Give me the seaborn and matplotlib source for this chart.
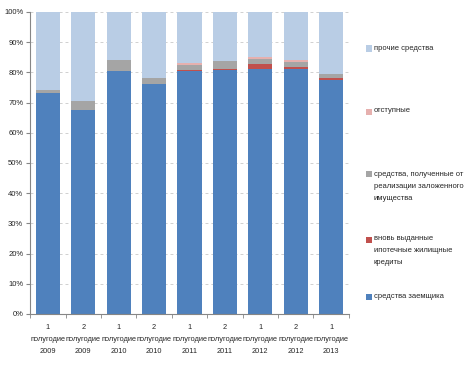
import numpy as np
import pandas as pd
import matplotlib
matplotlib.use("Agg")
import matplotlib.pyplot as plt
from matplotlib.patches import Rectangle
from matplotlib.ticker import PercentFormatter
import seaborn as sns

periods = ["1\nполугодие\n2009", "2\nполугодие\n2009", "1\nполугодие\n2010",
           "2\nполугодие\n2010", "1\nполугодие\n2011", "2\nполугодие\n2011",
           "1\nполугодие\n2012", "2\nполугодие\n2012", "1\nполугодие\n2013"]

# shares, %
borrower = [73.1, 67.5, 80.6, 76.0, 80.4, 80.8, 81.2, 81.1, 77.6]
new_loans = [0.0, 0.0, 0.0, 0.3, 0.3, 0.3, 1.5, 0.7, 0.4]
collateral = [1.1, 3.1, 3.5, 1.8, 1.6, 2.6, 1.8, 1.5, 1.3]
indemnity = [0.0, 0.0, 0.0, 0.0, 0.8, 0.1, 0.7, 0.8, 0.1]

names = ["средства заемщика",
         "вновь выданные\nипотечные жилищные\nкредиты",
         "средства, полученные от\nреализации заложенного\nимущества",
         "отступные",
         "прочие средства"]
colors = ["#4F81BD", "#C0504D", "#A5A5A5", "#E6B0AE", "#B9CDE5"]

layers = [borrower, new_loans, collateral, indemnity]
other = [100 - sum(v) for v in zip(*layers)]
layers.append(other)

df = pd.DataFrame({"period": periods})
cum = np.cumsum(np.array(layers), axis=0)

sns.set_style("white")
plt.rcParams["font.family"] = ["Liberation Sans", "DejaVu Sans"]

fig = plt.figure(figsize=(4.72, 3.75), dpi=100)
ax = fig.add_axes([0.064, 0.163, 0.675, 0.805])

for i in range(len(layers) - 1, -1, -1):
    df["v"] = cum[i]
    sns.barplot(data=df, x="period", y="v", color=colors[i], width=0.68,
                saturation=1, linewidth=0, ax=ax, zorder=2)

ax.set_ylim(0, 100)
ax.set_xlim(-0.5, len(periods) - 0.5)
ax.set_yticks(np.arange(0, 101, 10))
ax.yaxis.set_major_formatter(PercentFormatter(decimals=0))
ax.set_xlabel("")
ax.set_ylabel("")
ax.grid(axis="y", color="#D0D0D0", linestyle=(0, (3, 3)), linewidth=0.7, zorder=0)
ax.set_axisbelow(True)
for s in ["top", "right"]:
    ax.spines[s].set_visible(False)
for s in ["left", "bottom"]:
    ax.spines[s].set_color("#868686")
    ax.spines[s].set_linewidth(0.8)

ax.tick_params(axis="y", labelsize=5.5, length=3, color="#868686", pad=2, left=True)
ax.set_xticks(np.arange(len(periods)))
ax.set_xticklabels(periods, fontsize=5.3, linespacing=2.0)
ax.tick_params(axis="x", length=0, pad=7)
ax.set_xticks(np.arange(-0.5, len(periods)), minor=True)
ax.tick_params(axis="x", which="minor", length=3, color="#868686", bottom=True)

# legend on the right, placed like in the original
label_y = [296, 251, 186, 111, 48]
for i in range(len(names)):
    yf = 1 - label_y[i] / 375
    nlines = names[i].count("\n") + 1
    top_y = yf + (nlines - 1) * 6 / 375
    fig.patches.append(Rectangle((366 / 472, top_y - 3.5 / 375), 6 / 472, 6 / 375,
                                 transform=fig.transFigure, color=colors[i],
                                 linewidth=0))
    fig.text(374 / 472, yf, names[i], fontsize=5.5, va="center", ha="left",
             linespacing=2.0)

fig.savefig("out.png", dpi=100)
